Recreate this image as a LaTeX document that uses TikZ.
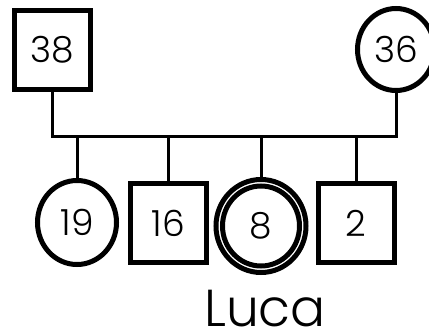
\documentclass[tikz,border=0pt]{standalone}
\usepackage{fontspec}
\setmainfont{Poppins}[UprightFont={* Light}]
\usetikzlibrary{shapes.geometric}
\begin{document}
\begin{tikzpicture}[x=1pt,y=-1pt,
  male/.style={draw, line width=5pt, rectangle, inner sep=0pt,
    minimum width=76pt, minimum height=79pt, font=\fontsize{36}{36}\selectfont},
  female/.style={draw, line width=5pt, ellipse, inner sep=0pt,
    font=\fontsize{36}{36}\selectfont},
  link/.style={line width=3pt}]
\useasboundingbox (0,0) rectangle (429,335);

% parents
\node[male] (father) at (52.5,50) {38};
\node[female, minimum width=77pt, minimum height=82pt] (mother) at (396,49.5) {36};

% children
\node[female, minimum width=79pt, minimum height=84pt] (c19) at (77,222.5) {19};
\node[male] (c16) at (168.5,223) {16};
\node[female, minimum width=90pt, minimum height=93pt] (c8) at (261,226) {8};
\node[female, minimum width=77pt, minimum height=80pt] (c8in) at (261,226) {};
\node[male] (c2) at (356,223) {2};

% proband name
\node[font=\fontsize{52}{52}\selectfont, inner sep=0pt, anchor=base] (name) at (265,326) {Luca};

% sibship line
\coordinate (bar) at (0,136);
\draw[link] (father.south) -- (father.south |- bar) -- (mother.south |- bar) -- (mother.south);
\foreach \c in {c19,c16,c8,c2}
  \draw[link] (\c.north) -- (\c.north |- bar);
\end{tikzpicture}
\end{document}
